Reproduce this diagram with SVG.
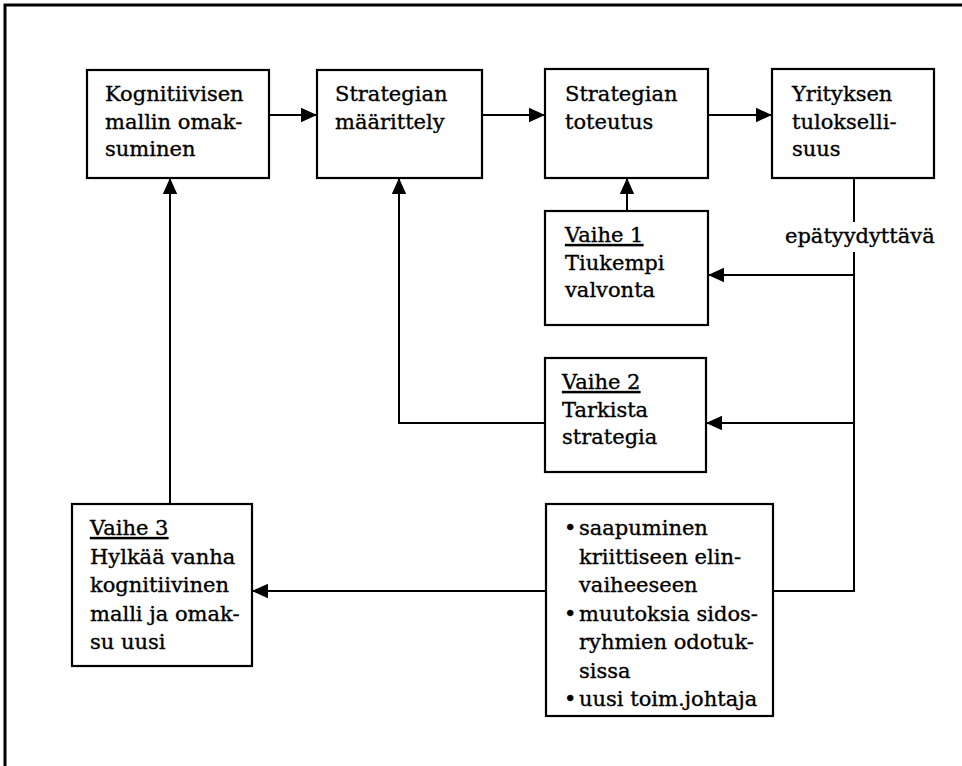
<svg xmlns="http://www.w3.org/2000/svg" width="962" height="766" viewBox="0 0 962 766">
  <defs>
    <marker id="arrow" viewBox="0 0 10 10" refX="10" refY="5" markerWidth="8" markerHeight="8" markerUnits="strokeWidth" orient="auto">
      <path d="M0,0.5 L10,5 L0,9.5 Z" fill="#000"/>
    </marker>
    <style>
      .box { fill: #fff; stroke: #000; stroke-width: 2.2; }
      .frame { fill: none; stroke: #000; stroke-width: 3; }
      .conn { fill: none; stroke: #000; stroke-width: 2; }
      .arr { marker-end: url(#arrow); }
      text { font-family: "DejaVu Serif", "Liberation Serif", serif; font-size: 21px; fill: #000; stroke: #000; stroke-width: 0.35; }
      .u { text-decoration: underline; }
    </style>
  </defs>
  <rect width="962" height="766" fill="#fff"/>

  <!-- page frame (top and left edges only) -->
  <path class="frame" d="M5,766 V5 H962"/>

  <g id="connectors">
    <path class="conn arr" d="M269,115 H317"/>
    <path class="conn arr" d="M482,115 H545"/>
    <path class="conn arr" d="M708,115 H772"/>
    <path class="conn arr" d="M627,211 V178"/>
    <path class="conn" d="M854,178 V222"/>
    <path class="conn" d="M854,252 V591 H773"/>
    <path class="conn arr" d="M854,275 H708"/>
    <path class="conn arr" d="M854,423 H706"/>
    <path class="conn arr" d="M545,423 H399 V178"/>
    <path class="conn arr" d="M170,504 V178"/>
    <path class="conn arr" d="M546,591 H252"/>
  </g>

  <g id="kognitiivinen-malli">
    <rect class="box" x="87" y="70" width="182" height="108"/>
    <text x="105" y="101">Kognitiivisen</text>
    <text x="105" y="128.5">mallin omak-</text>
    <text x="105" y="156">suminen</text>
  </g>

  <g id="strategian-maarittely">
    <rect class="box" x="317" y="70" width="165" height="108"/>
    <text x="335" y="101">Strategian</text>
    <text x="335" y="128.5">määrittely</text>
  </g>

  <g id="strategian-toteutus">
    <rect class="box" x="545" y="69" width="163" height="109"/>
    <text x="565" y="101">Strategian</text>
    <text x="565" y="128.5">toteutus</text>
  </g>

  <g id="tuloksellisuus">
    <rect class="box" x="772" y="69" width="162" height="109"/>
    <text x="792" y="101">Yrityksen</text>
    <text x="792" y="128.5">tulokselli-</text>
    <text x="792" y="156">suus</text>
  </g>

  <g id="label-epatyydyttava">
    <text x="785" y="243">epätyydyttävä</text>
  </g>

  <g id="vaihe-1">
    <rect class="box" x="545" y="211" width="163" height="114"/>
    <text x="565" y="242" class="u">Vaihe 1</text>
    <text x="565" y="269.5">Tiukempi</text>
    <text x="565" y="297">valvonta</text>
  </g>

  <g id="vaihe-2">
    <rect class="box" x="545" y="358" width="161" height="114"/>
    <text x="562" y="389" class="u">Vaihe 2</text>
    <text x="562" y="416.5">Tarkista</text>
    <text x="562" y="444">strategia</text>
  </g>

  <g id="vaihe-3">
    <rect class="box" x="72" y="504" width="180" height="162"/>
    <text x="90" y="535" class="u">Vaihe 3</text>
    <text x="90" y="563.5">Hylkää vanha</text>
    <text x="90" y="592">kognitiivinen</text>
    <text x="90" y="620.5">malli ja omak-</text>
    <text x="90" y="649">su uusi</text>
  </g>

  <g id="syyt">
    <rect class="box" x="546" y="504" width="227" height="212"/>
    <text x="564" y="535">•</text><text x="579" y="535">saapuminen</text>
    <text x="579" y="563.5">kriittiseen elin-</text>
    <text x="579" y="592">vaiheeseen</text>
    <text x="564" y="620.5">•</text><text x="579" y="620.5">muutoksia sidos-</text>
    <text x="579" y="649">ryhmien odotuk-</text>
    <text x="579" y="677.5">sissa</text>
    <text x="564" y="706">•</text><text x="579" y="706">uusi toim.johtaja</text>
  </g>
</svg>
